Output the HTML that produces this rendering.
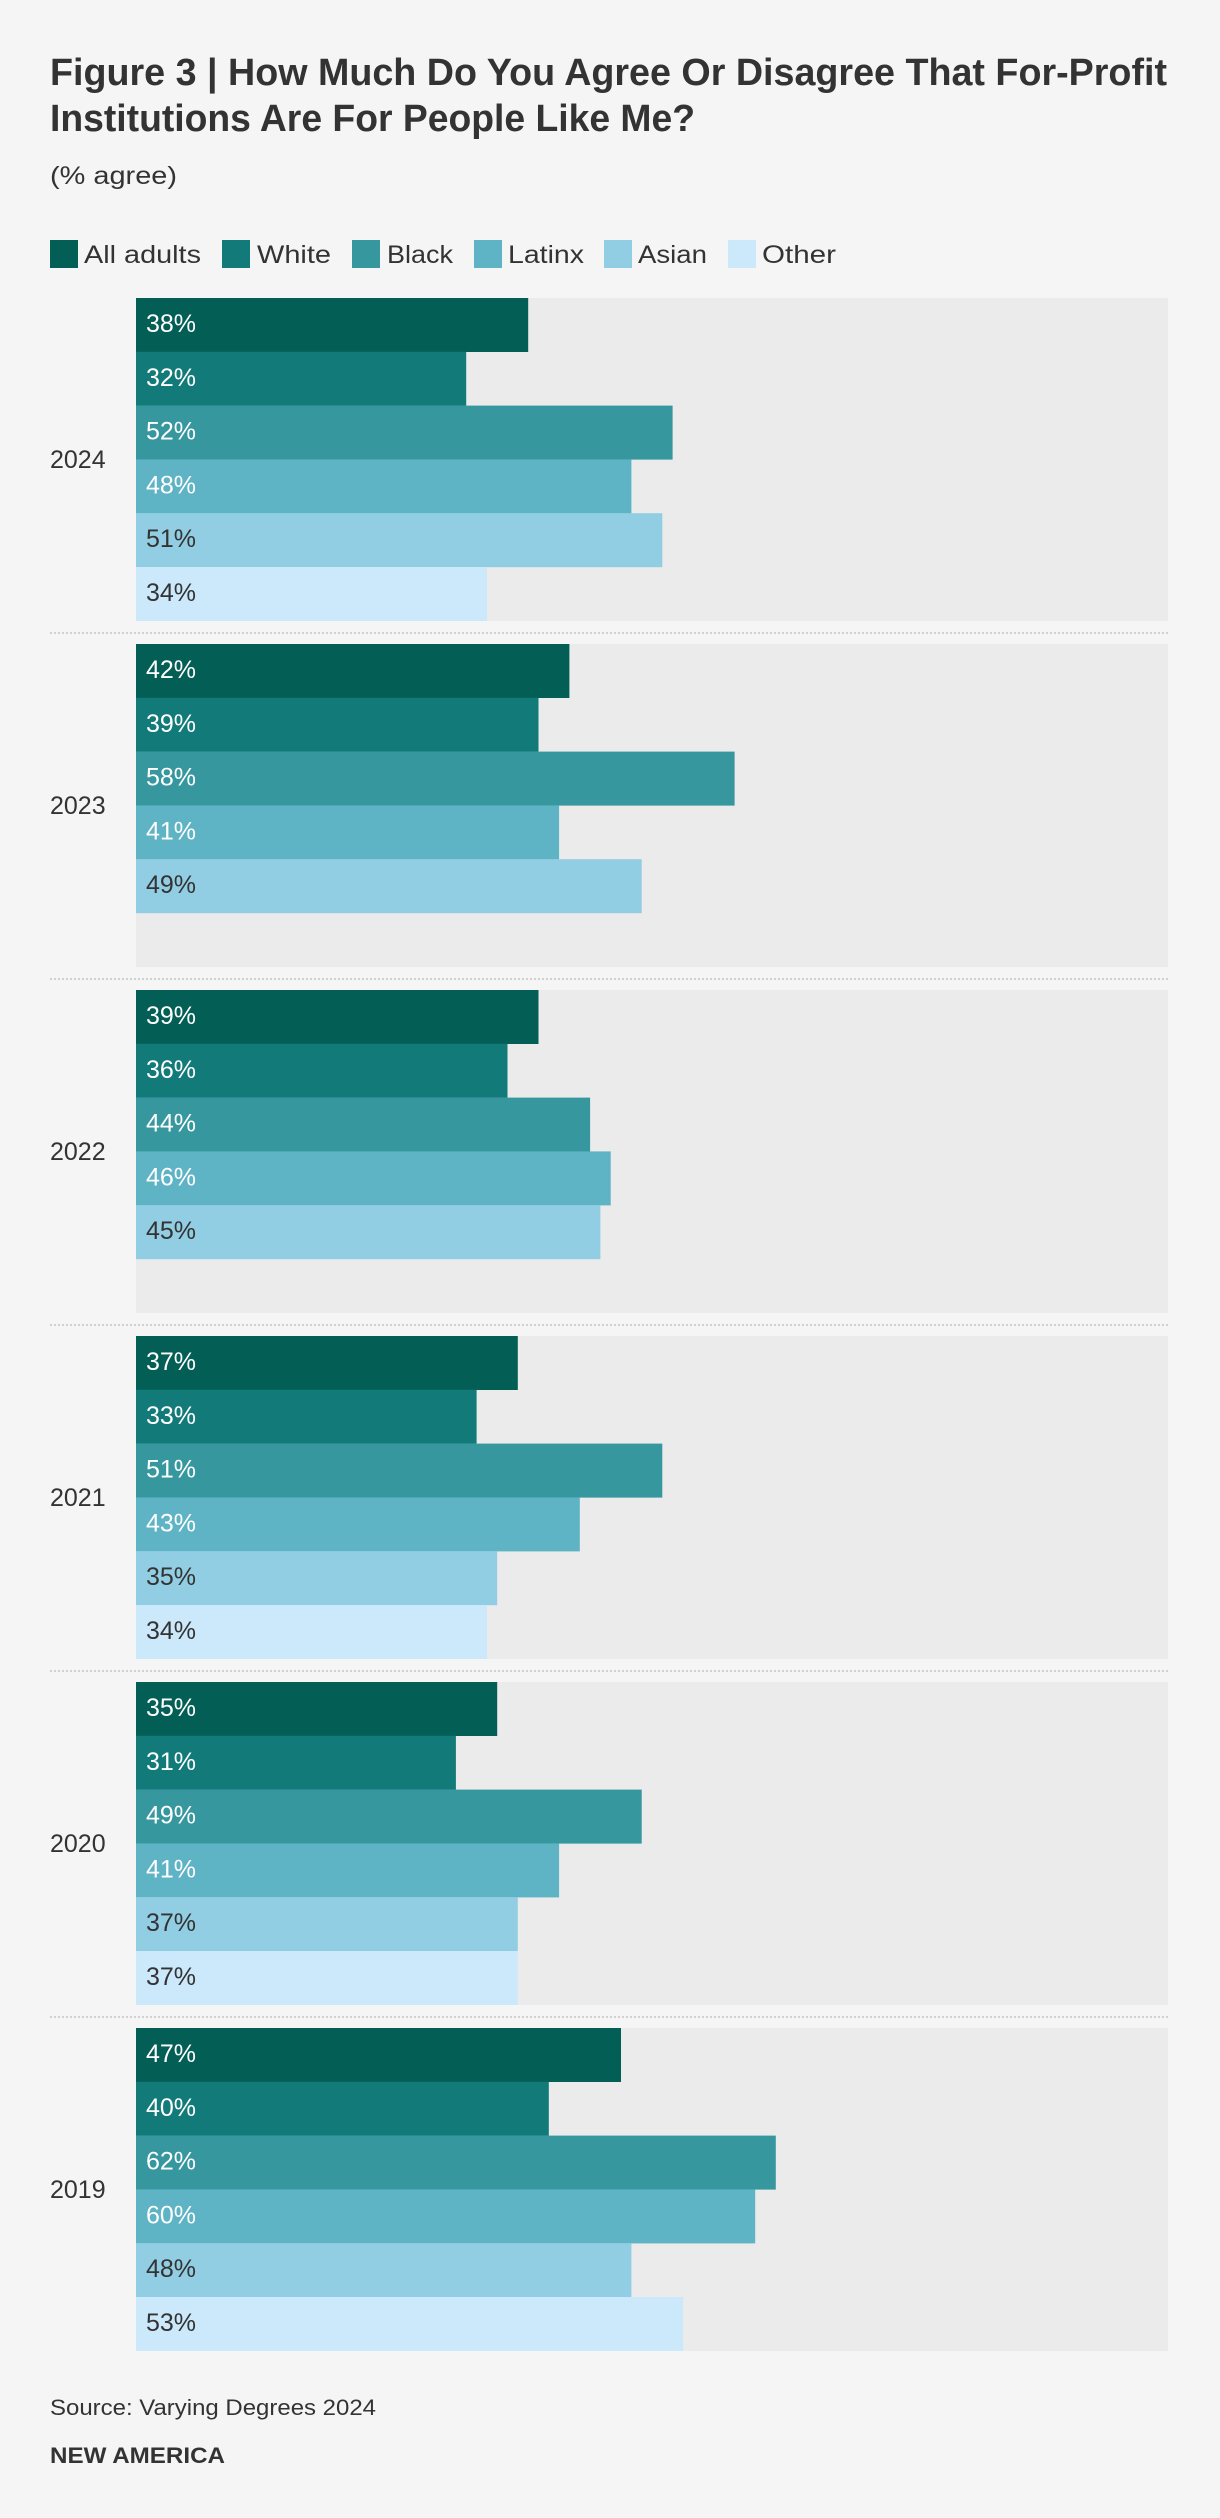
<!DOCTYPE html>
<html><head><meta charset="utf-8"><style>
html,body{margin:0;padding:0;background:#f5f5f5;}
svg{display:block;font-family:"Liberation Sans",sans-serif;}
.w{fill:#fff;font-size:25px}.d{fill:#333;font-size:25px}
.y{fill:#333;font-size:25px}
</style></head><body>
<svg width="1220" height="2518" viewBox="0 0 1220 2518" xmlns="http://www.w3.org/2000/svg">
<rect width="1220" height="2518" fill="#f5f5f5"/>
<text x="50" y="85" font-size="38" font-weight="bold" fill="#333" textLength="1117" lengthAdjust="spacingAndGlyphs">Figure 3 | How Much Do You Agree Or Disagree That For-Profit</text>
<text x="50" y="131" font-size="38" font-weight="bold" fill="#333" textLength="645" lengthAdjust="spacingAndGlyphs">Institutions Are For People Like Me?</text>
<text x="50" y="184" font-size="25" fill="#333" textLength="127" lengthAdjust="spacingAndGlyphs">(% agree)</text>
<g font-size="25" fill="#333">
<rect x="50" y="240" width="28" height="28" fill="#035e55"/><text x="84" y="263" textLength="117" lengthAdjust="spacingAndGlyphs">All adults</text>
<rect x="222" y="240" width="28" height="28" fill="#137a7a"/><text x="257" y="263" textLength="74" lengthAdjust="spacingAndGlyphs">White</text>
<rect x="352" y="240" width="28" height="28" fill="#36979e"/><text x="387" y="263" textLength="66" lengthAdjust="spacingAndGlyphs">Black</text>
<rect x="474" y="240" width="28" height="28" fill="#5eb3c4"/><text x="508" y="263" textLength="76" lengthAdjust="spacingAndGlyphs">Latinx</text>
<rect x="604" y="240" width="28" height="28" fill="#91cee3"/><text x="638" y="263" textLength="69" lengthAdjust="spacingAndGlyphs">Asian</text>
<rect x="728" y="240" width="28" height="28" fill="#cce8fb"/><text x="762" y="263" textLength="74" lengthAdjust="spacingAndGlyphs">Other</text>
</g>
<g stroke="#d0d0d0" stroke-width="2" stroke-dasharray="2,2">
<line x1="50" y1="633" x2="1168" y2="633"/><line x1="50" y1="979" x2="1168" y2="979"/>
<line x1="50" y1="1325" x2="1168" y2="1325"/><line x1="50" y1="1671" x2="1168" y2="1671"/>
<line x1="50" y1="2017" x2="1168" y2="2017"/>
</g>

<g transform="translate(0,298)">
<rect x="136" y="0" width="1032" height="323" fill="#ebebeb"/>
<rect x="136" y="0" width="392.2" height="54" fill="#035e55"/><text class="w" x="146" y="34">38%</text>
<rect x="136" y="53.8" width="330.2" height="54" fill="#137a7a"/><text class="w" x="146" y="87.8">32%</text>
<rect x="136" y="107.6" width="536.6" height="54" fill="#36979e"/><text class="w" x="146" y="141.6">52%</text>
<rect x="136" y="161.4" width="495.4" height="54" fill="#5eb3c4"/><text class="w" x="146" y="195.4">48%</text>
<rect x="136" y="215.2" width="526.3" height="54" fill="#91cee3"/><text class="d" x="146" y="249.2">51%</text>
<rect x="136" y="269" width="350.9" height="54" fill="#cce8fb"/><text class="d" x="146" y="303">34%</text>
<text class="y" x="50" y="170">2024</text>
</g>
<g transform="translate(0,644)">
<rect x="136" y="0" width="1032" height="323" fill="#ebebeb"/>
<rect x="136" y="0" width="433.4" height="54" fill="#035e55"/><text class="w" x="146" y="34">42%</text>
<rect x="136" y="53.8" width="402.5" height="54" fill="#137a7a"/><text class="w" x="146" y="87.8">39%</text>
<rect x="136" y="107.6" width="598.6" height="54" fill="#36979e"/><text class="w" x="146" y="141.6">58%</text>
<rect x="136" y="161.4" width="423.1" height="54" fill="#5eb3c4"/><text class="w" x="146" y="195.4">41%</text>
<rect x="136" y="215.2" width="505.7" height="54" fill="#91cee3"/><text class="d" x="146" y="249.2">49%</text>
<text class="y" x="50" y="170">2023</text>
</g>
<g transform="translate(0,990)">
<rect x="136" y="0" width="1032" height="323" fill="#ebebeb"/>
<rect x="136" y="0" width="402.5" height="54" fill="#035e55"/><text class="w" x="146" y="34">39%</text>
<rect x="136" y="53.8" width="371.5" height="54" fill="#137a7a"/><text class="w" x="146" y="87.8">36%</text>
<rect x="136" y="107.6" width="454.1" height="54" fill="#36979e"/><text class="w" x="146" y="141.6">44%</text>
<rect x="136" y="161.4" width="474.7" height="54" fill="#5eb3c4"/><text class="w" x="146" y="195.4">46%</text>
<rect x="136" y="215.2" width="464.4" height="54" fill="#91cee3"/><text class="d" x="146" y="249.2">45%</text>
<text class="y" x="50" y="170">2022</text>
</g>
<g transform="translate(0,1336)">
<rect x="136" y="0" width="1032" height="323" fill="#ebebeb"/>
<rect x="136" y="0" width="381.8" height="54" fill="#035e55"/><text class="w" x="146" y="34">37%</text>
<rect x="136" y="53.8" width="340.6" height="54" fill="#137a7a"/><text class="w" x="146" y="87.8">33%</text>
<rect x="136" y="107.6" width="526.3" height="54" fill="#36979e"/><text class="w" x="146" y="141.6">51%</text>
<rect x="136" y="161.4" width="443.8" height="54" fill="#5eb3c4"/><text class="w" x="146" y="195.4">43%</text>
<rect x="136" y="215.2" width="361.2" height="54" fill="#91cee3"/><text class="d" x="146" y="249.2">35%</text>
<rect x="136" y="269" width="350.9" height="54" fill="#cce8fb"/><text class="d" x="146" y="303">34%</text>
<text class="y" x="50" y="170">2021</text>
</g>
<g transform="translate(0,1682)">
<rect x="136" y="0" width="1032" height="323" fill="#ebebeb"/>
<rect x="136" y="0" width="361.2" height="54" fill="#035e55"/><text class="w" x="146" y="34">35%</text>
<rect x="136" y="53.8" width="319.9" height="54" fill="#137a7a"/><text class="w" x="146" y="87.8">31%</text>
<rect x="136" y="107.6" width="505.7" height="54" fill="#36979e"/><text class="w" x="146" y="141.6">49%</text>
<rect x="136" y="161.4" width="423.1" height="54" fill="#5eb3c4"/><text class="w" x="146" y="195.4">41%</text>
<rect x="136" y="215.2" width="381.8" height="54" fill="#91cee3"/><text class="d" x="146" y="249.2">37%</text>
<rect x="136" y="269" width="381.8" height="54" fill="#cce8fb"/><text class="d" x="146" y="303">37%</text>
<text class="y" x="50" y="170">2020</text>
</g>
<g transform="translate(0,2028)">
<rect x="136" y="0" width="1032" height="323" fill="#ebebeb"/>
<rect x="136" y="0" width="485" height="54" fill="#035e55"/><text class="w" x="146" y="34">47%</text>
<rect x="136" y="53.8" width="412.8" height="54" fill="#137a7a"/><text class="w" x="146" y="87.8">40%</text>
<rect x="136" y="107.6" width="639.8" height="54" fill="#36979e"/><text class="w" x="146" y="141.6">62%</text>
<rect x="136" y="161.4" width="619.2" height="54" fill="#5eb3c4"/><text class="w" x="146" y="195.4">60%</text>
<rect x="136" y="215.2" width="495.4" height="54" fill="#91cee3"/><text class="d" x="146" y="249.2">48%</text>
<rect x="136" y="269" width="547" height="54" fill="#cce8fb"/><text class="d" x="146" y="303">53%</text>
<text class="y" x="50" y="170">2019</text>
</g>
<text x="50" y="2415" font-size="22" fill="#333" textLength="326" lengthAdjust="spacingAndGlyphs">Source: Varying Degrees 2024</text>
<text x="50" y="2463" font-size="22" font-weight="bold" fill="#333" textLength="175" lengthAdjust="spacingAndGlyphs">NEW AMERICA</text>
</svg>
</body></html>
